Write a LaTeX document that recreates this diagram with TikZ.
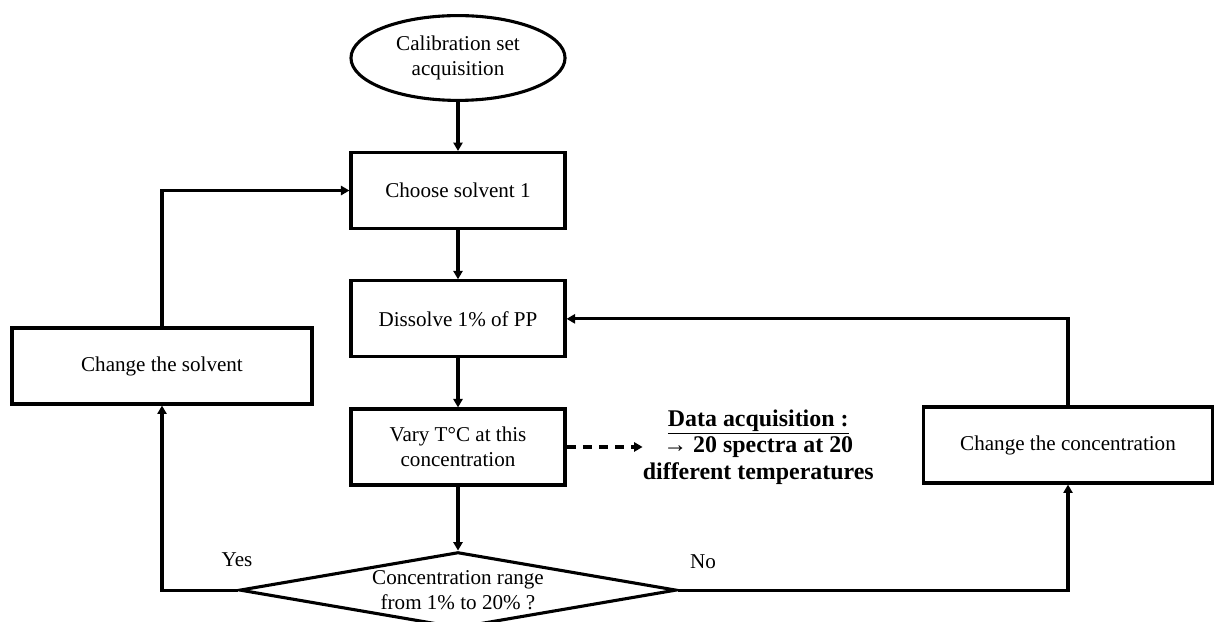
\documentclass[tikz,border=0pt]{standalone}
\usepackage{fontspec}
\setmainfont{Liberation Serif}
\usetikzlibrary{arrows.meta, positioning, shapes.geometric}

\begin{document}
\begin{tikzpicture}[
  x=0.025cm, y=-0.025cm,
  font=\fontsize{15}{18}\selectfont,
  stepbox/.style={draw, line width=2.2pt, minimum width=5.35cm,
                  minimum height=1.9cm, align=center},
  sidebox/.style={stepbox, minimum width=7.5cm},
  startnode/.style={draw, ellipse, line width=2.2pt, minimum width=5.35cm,
                    minimum height=2.12cm, align=center, inner sep=0pt},
  decision/.style={draw, diamond, line width=2.2pt, aspect=5.75, inner sep=0pt,
                   minimum width=10.92cm, minimum height=1.9cm, align=center},
  link/.style={-{Triangle[length=6pt, width=6.5pt]}, line width=2.2pt},
  datalink/.style={link, dash pattern=on 6.5pt off 5pt}
]
  \useasboundingbox (0,0) rectangle (1214,622);

  \node[startnode] (start) at (458,58) {Calibration set\\acquisition};
  \node[stepbox, below=1.225cm of start] (choose) {Choose solvent 1};
  \node[stepbox, below=1.23cm of choose] (dissolve) {Dissolve 1\% of PP};
  \node[stepbox, below=1.225cm of dissolve] (vary)
    {Vary T°C at this\\concentration};
  \node[decision, below=1.6cm of vary] (range)
    {Concentration range\\from 1\% to 20\% ?};

  \node[sidebox] (solvent) at (162,366) {Change the solvent};
  \node[stepbox, minimum width=7.22cm] (conc) at (1068,445)
    {Change the concentration};

  \node[right=1.9cm of vary, align=center, inner sep=0pt,
        font=\fontsize{17}{19}\selectfont\bfseries] (data)
    {\underline{Data acquisition :}\\→ 20 spectra at 20\\different temperatures};

  \node (yes) at (237,560) {Yes};
  \node (no) at (703,562) {No};

  \draw[link] (start) -- (choose);
  \draw[link] (choose) -- (dissolve);
  \draw[link] (dissolve) -- (vary);
  \draw[link] (vary) -- (range);
  \draw[datalink] (vary) -- (data);

  \draw[link] (range.west) -| (solvent.south);
  \draw[link] (solvent.north) |- (choose.west);
  \draw[link] (range.east) -| (conc.south);
  \draw[link] (conc.north) |- (dissolve.east);
\end{tikzpicture}
\end{document}
